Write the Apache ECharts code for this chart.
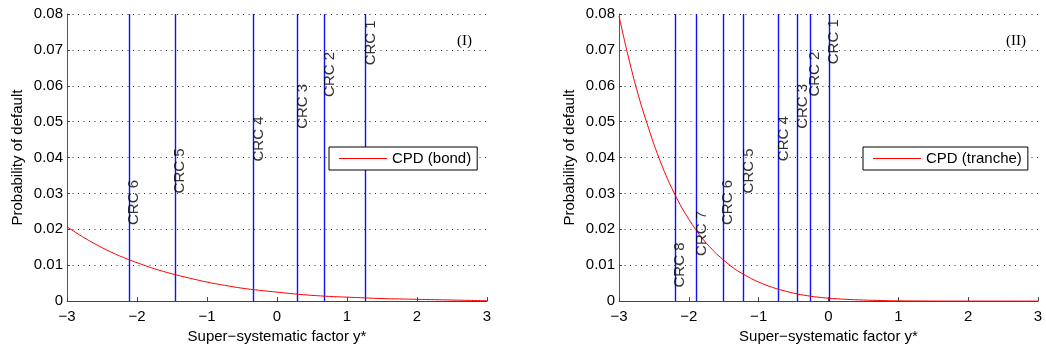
<!DOCTYPE html>
<html>
<head>
<meta charset="utf-8">
<title>Conditional probability of default</title>
<script src="https://cdn.jsdelivr.net/npm/echarts@6/dist/echarts.min.js"></script>
<style>
  html, body { margin: 0; padding: 0; background: #fff; }
  #chart { width: 1046px; height: 349px; }
</style>
</head>
<body>
<div id="chart"></div>
<script>
// Panel (I): conditional PD of the bond against the super-systematic factor
const bondX = [-3, -2.75, -2.5, -2.25, -2, -1.75, -1.5, -1.25, -1, -0.75, -0.5, -0.25,
               0, 0.25, 0.5, 0.75, 1, 1.25, 1.5, 1.75, 2, 2.25, 2.5, 2.75, 3];
const bondPD = [0.0207, 0.0176, 0.0149, 0.0126, 0.0107, 0.0090, 0.0076, 0.0064, 0.0053,
                0.0044, 0.0036, 0.0030, 0.0025, 0.0020, 0.0016, 0.0013, 0.0011, 0.0009,
                0.0007, 0.0006, 0.0005, 0.0004, 0.0003, 0.0002, 0.0001];

// Panel (II): conditional PD of the tranche
const trancheX = [-3, -2.9, -2.8, -2.7, -2.6, -2.5, -2.4, -2.3, -2.2, -2.1, -2, -1.9,
                  -1.8, -1.7, -1.6, -1.5, -1.4, -1.3, -1.2, -1.1, -1, -0.9, -0.8, -0.7,
                  -0.6, -0.5, -0.4, -0.3, -0.2, -0.1, 0, 0.25, 0.5, 0.75, 1, 1.5, 2, 2.5, 3];
const tranchePD = [0.0794, 0.0708, 0.0629, 0.0558, 0.0496, 0.0437, 0.0385, 0.0338, 0.0297,
                   0.0260, 0.0228, 0.0199, 0.0173, 0.0151, 0.0131, 0.0114, 0.0098, 0.0084,
                   0.0073, 0.0062, 0.0053, 0.0045, 0.0038, 0.0032, 0.0027, 0.0022, 0.0018,
                   0.0015, 0.0012, 0.0010, 0.0008, 0.0005, 0.0003, 0.00015, 0.00007,
                   0.00002, 0.000004, 0, 0];

// Credit rating class thresholds (CRC 1 first) and heights of their labels
const bondCRC = [1.26, 0.675, 0.289, -0.336, -1.46, -2.118];
const bondLabelY = [0.0657, 0.0569, 0.0480, 0.0389, 0.0300, 0.0212];
const trancheCRC = [0, -0.272, -0.444, -0.721, -1.221, -1.517, -1.894, -2.204];
const trancheLabelY = [0.0660, 0.0570, 0.0480, 0.0390, 0.0300, 0.0212, 0.0126, 0.0038];

// Axis ticks
const xTickLabels = ['\u22123', '\u22122', '\u22121', '0', '1', '2', '3'];
const yTickLabels = ['0', '0.01', '0.02', '0.03', '0.04', '0.05', '0.06', '0.07', '0.08'];
const Y_MAX = 0.08;

const FONT = 'Liberation Sans, Arial, Helvetica, sans-serif';
const SERIF = 'Liberation Serif, Times New Roman, serif';

const chart = echarts.init(document.getElementById('chart'), null, { renderer: 'canvas' });

function xAxis(gridIndex) {
  return {
    type: 'value', gridIndex, min: -3, max: 3, interval: 1,
    name: 'Super\u2212systematic factor y*', nameLocation: 'middle', nameGap: 24,
    nameTextStyle: { fontFamily: FONT, fontSize: 15, color: '#000' },
    axisLine: { show: true, onZero: false, lineStyle: { color: '#444', width: 1 } },
    axisTick: { show: true, inside: true, length: 4, lineStyle: { color: '#444' } },
    axisLabel: {
      fontFamily: FONT, fontSize: 15, color: '#000', margin: 8,
      formatter: v => xTickLabels[Math.round(v) + 3]
    },
    splitLine: { show: false }
  };
}

function yAxis(gridIndex) {
  return {
    type: 'value', gridIndex, min: 0, max: Y_MAX, interval: 0.01,
    name: 'Probability of default', nameLocation: 'middle', nameGap: 42,
    nameTextStyle: { fontFamily: FONT, fontSize: 15, color: '#000' },
    axisLine: { show: true, onZero: false, lineStyle: { color: '#555', width: 1 } },
    axisTick: { show: true, inside: true, length: 3, lineStyle: { color: '#444' } },
    axisLabel: {
      fontFamily: FONT, fontSize: 15, color: '#000', margin: 4,
      formatter: v => yTickLabels[Math.round(v * 100)]
    },
    splitLine: {
      show: true, showMinLine: true, showMaxLine: true,
      lineStyle: { color: '#333', width: 1, type: [1, 4.5] }
    }
  };
}

function curve(name, xs, ys, idx) {
  return {
    name, type: 'line', xAxisIndex: idx, yAxisIndex: idx,
    data: xs.map((x, i) => [x, ys[i]]),
    smooth: 0.3, symbol: 'none', z: 4,
    lineStyle: { color: '#ff0000', width: 1 },
    itemStyle: { color: '#ff0000' }
  };
}

// Full-height vertical threshold lines
function crcLines(crc, idx) {
  return {
    type: 'custom', xAxisIndex: idx, yAxisIndex: idx, silent: true, z: 3,
    data: crc.map(x => [x]),
    renderItem: (params, api) => {
      const top = api.coord([api.value(0), Y_MAX]);
      const bottom = api.coord([api.value(0), 0]);
      const px = Math.round(top[0]) + 0.5;
      return {
        type: 'line',
        shape: { x1: px, y1: top[1], x2: px, y2: bottom[1] },
        style: { stroke: '#1010ff', lineWidth: 1.4 }
      };
    }
  };
}

function crcLabels(crc, heights, idx) {
  return {
    type: 'scatter', xAxisIndex: idx, yAxisIndex: idx,
    symbolSize: 0, silent: true, z: 5,
    data: crc.map((x, i) => ({ value: [x, heights[i]], name: 'CRC ' + (i + 1) })),
    label: {
      show: true, position: [-2, 0], rotate: 90,
      align: 'left', verticalAlign: 'top',
      fontFamily: FONT, fontSize: 15, color: '#000',
      formatter: p => p.name
    }
  };
}

function legend(name, left) {
  return {
    data: [{ name, icon: 'rect' }], left, top: 147,
    orient: 'horizontal', selectedMode: false,
    backgroundColor: '#fff', borderColor: '#000', borderWidth: 1, borderRadius: 0,
    padding: [4, 6, 4, 10], itemWidth: 48, itemHeight: 1,
    itemStyle: { color: '#ff0000' },
    textStyle: { fontFamily: FONT, fontSize: 15, color: '#000' }
  };
}

chart.setOption({
  animation: false,
  backgroundColor: '#fff',
  grid: [
    { left: 67, right: 559, top: 14, bottom: 45 },
    { left: 619, right: 8, top: 14, bottom: 45 }
  ],
  xAxis: [xAxis(0), xAxis(1)],
  yAxis: [yAxis(0), yAxis(1)],
  legend: [legend('CPD (bond)', 329), legend('CPD (tranche)', 863)],
  title: [
    { text: '(I)', left: 457, top: 34, padding: 0,
      textStyle: { fontFamily: SERIF, fontSize: 15, fontWeight: 'normal', color: '#000' } },
    { text: '(II)', left: 1006, top: 34, padding: 0,
      textStyle: { fontFamily: SERIF, fontSize: 15, fontWeight: 'normal', color: '#000' } }
  ],
  series: [
    crcLines(bondCRC, 0),
    curve('CPD (bond)', bondX, bondPD, 0),
    crcLabels(bondCRC, bondLabelY, 0),
    crcLines(trancheCRC, 1),
    curve('CPD (tranche)', trancheX, tranchePD, 1),
    crcLabels(trancheCRC, trancheLabelY, 1)
  ]
});
</script>
</body>
</html>
